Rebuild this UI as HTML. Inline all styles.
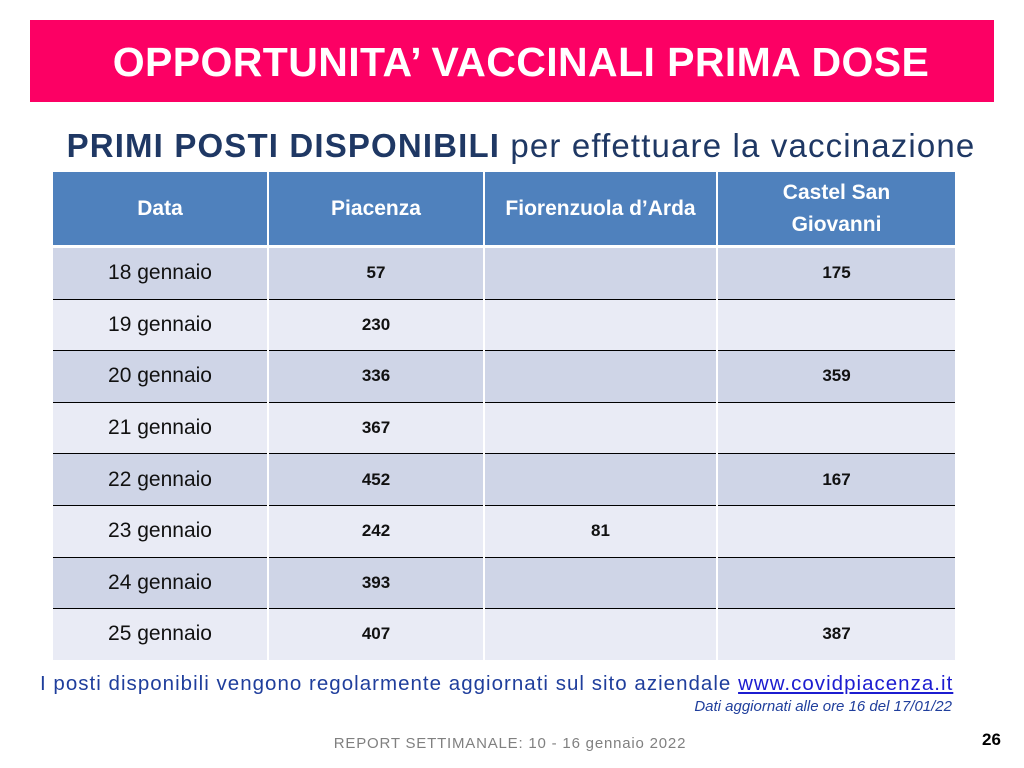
<!DOCTYPE html>
<html><head><meta charset="utf-8"><style>
body{margin:0;width:1024px;height:768px;background:#fff;position:relative;font-family:"Liberation Sans",sans-serif;overflow:hidden}
.ban{position:absolute;left:30px;top:20px;width:964px;height:82px;background:#fc0064;color:#fff;font-weight:bold;font-size:41px;text-align:center;line-height:84px;letter-spacing:0.4px;text-indent:18px}
.sub{position:absolute;left:40px;width:962px;top:124px;text-align:center;color:#1f3864;font-size:33px;line-height:44px;letter-spacing:1.15px;white-space:nowrap}
table{position:absolute;left:53px;top:172px;border-collapse:collapse;width:902px;table-layout:fixed}
td{padding:0;text-align:center;height:50.6px}
th{background:#4f81bd;color:#fff;font-size:21px;height:73px;border-left:2px solid #fff;border-bottom:3px solid #fff;line-height:32px;padding:0}
th:first-child,td:first-child{border-left:none}
td{border-left:2px solid #fff;border-top:1.5px solid #000;font-size:17px;font-weight:bold;color:#111}
td:first-child{font-size:21px;font-weight:normal}
tr:nth-child(even) td{background:#cfd5e7}
tr:nth-child(odd) td{background:#e9ebf5}
tr:nth-child(2) td{border-top:none}
.f1{position:absolute;left:40px;top:672px;font-size:20.5px;color:#1f3e9c;letter-spacing:1.02px;white-space:nowrap}
.f1 u{color:#1c1cd0}
.f2{position:absolute;right:72px;top:698px;font-size:15px;font-style:italic;color:#1f3e9c}
.f3{position:absolute;left:0;width:1020px;top:735px;text-align:center;font-size:15px;color:#808080;letter-spacing:0.8px}
.pg{position:absolute;left:982px;top:730px;font-size:17px;font-weight:bold}
</style></head><body>
<div class="ban">OPPORTUNITA’ VACCINALI PRIMA DOSE</div>
<div class="sub"><b>PRIMI POSTI DISPONIBILI</b> per effettuare la vaccinazione</div>
<table>
<colgroup><col style="width:215px"><col style="width:216px"><col style="width:233px"><col style="width:238px"></colgroup>
<tr><th>Data</th><th>Piacenza</th><th>Fiorenzuola d’Arda</th><th>Castel San<br>Giovanni</th></tr>
<tr><td>18 gennaio</td><td>57</td><td></td><td>175</td></tr>
<tr><td>19 gennaio</td><td>230</td><td></td><td></td></tr>
<tr><td>20 gennaio</td><td>336</td><td></td><td>359</td></tr>
<tr><td>21 gennaio</td><td>367</td><td></td><td></td></tr>
<tr><td>22 gennaio</td><td>452</td><td></td><td>167</td></tr>
<tr><td>23 gennaio</td><td>242</td><td>81</td><td></td></tr>
<tr><td>24 gennaio</td><td>393</td><td></td><td></td></tr>
<tr><td>25 gennaio</td><td>407</td><td></td><td>387</td></tr>
</table>
<div class="f1">I posti disponibili vengono regolarmente aggiornati sul sito aziendale <u>www.covidpiacenza.it</u></div>
<div class="f2">Dati aggiornati alle ore 16 del 17/01/22</div>
<div class="f3">REPORT SETTIMANALE: 10 - 16 gennaio 2022</div>
<div class="pg">26</div>
</body></html>
